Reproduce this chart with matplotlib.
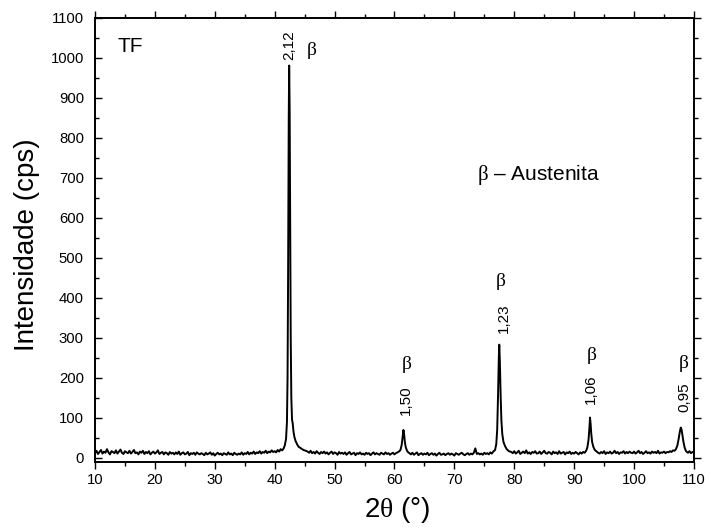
import numpy as np
import matplotlib

matplotlib.use("Agg")
import matplotlib.pyplot as plt
from matplotlib.ticker import MultipleLocator
from matplotlib.lines import TICKRIGHT

plt.rcParams["font.family"] = ["Liberation Sans", "DejaVu Sans"]
plt.rcParams["mathtext.fontset"] = "custom"
plt.rcParams["mathtext.rm"] = "Liberation Serif"
plt.rcParams["mathtext.it"] = "Liberation Serif"

# ---- dados lidos do difratograma (2theta em graus, intensidade em cps) ----
# trechos de fundo amostrados a cada 0,25 grau: (inicio, valores)
PASSO_FUNDO = 0.25

fundo_a_inicio = 10.0
fundo_a = [
    12, 18, 10, 15, 20, 11, 16, 13, 22, 14, 9, 17, 15, 12, 19, 11, 16, 21, 13, 10, 17, 14, 12, 18,
    11, 15, 20, 12, 14, 9, 16, 13, 18, 10, 15, 12, 17, 9, 13, 16, 11, 14, 19, 10, 13, 15, 9, 14,
    12, 8, 15, 11, 13, 9, 14, 10, 16, 8, 12, 14, 9, 11, 15, 7, 12, 10, 13, 8, 14, 11, 9, 12,
    10, 7, 13, 9, 11, 14, 8, 12, 6, 10, 13, 9, 11, 7, 12, 10, 8, 14, 9, 11, 7, 13, 10, 8,
    11, 9, 14, 8, 12, 10, 15, 9, 13, 11, 16, 10, 14, 12, 17, 11, 15, 13, 18, 12, 16, 14, 19, 15,
    17, 14, 20, 16, 22, 19,
]

fundo_b_inicio = 45.5
fundo_b = [
    16, 13, 18, 12, 15, 11, 17, 13, 10, 15, 12, 16, 11, 14, 9, 13, 16, 10, 14, 12, 8, 15, 11, 13,
    10, 14, 8, 12, 15, 9, 11, 13, 7, 12, 10, 14, 9, 11, 8, 13, 10, 12, 7, 11, 14, 9, 12, 10,
    8, 13, 11, 9, 14, 10, 12, 8, 11, 13, 9, 12, 14, 16,
]

fundo_c_inicio = 62.5
fundo_c = [
    12, 9, 13, 8, 11, 14, 7, 10, 12, 8, 11, 9, 13, 7, 10, 12, 8, 11, 6, 10, 13, 8, 9, 11,
    7, 10, 12, 8, 11, 9, 6, 12, 10, 8, 11, 13, 9, 7, 10, 12, 8, 11, 9, 13, 24, 10, 12, 9,
    11, 8, 13, 10, 12, 9, 14, 11, 16,
]

fundo_d_inicio = 79.5
fundo_d = [
    15, 12, 17, 11, 14, 18, 10, 13, 16, 12, 19, 11, 14, 10, 15, 13, 17, 11, 12, 16, 10, 14, 18, 12,
    11, 15, 13, 9, 16, 12, 14, 10, 17, 11, 13, 15, 9, 14, 12, 16, 10, 13, 11, 15, 12, 9, 14, 11,
    15, 13,
]

fundo_e_inicio = 93.75
fundo_e = [
    16, 13, 11, 15, 12, 17, 10, 14, 12, 16, 11, 13, 18, 12, 15, 10, 14, 13, 17, 11, 15, 12, 16, 13,
    12, 16, 11, 14, 18, 12, 15, 10, 13, 17, 12, 14, 11, 16, 13, 15, 12, 18, 11, 14, 13, 16, 12, 15,
    14, 17, 15, 19, 18,
]

fundo_f_inicio = 108.75
fundo_f = [16, 13, 17, 12, 15, 14]

# perfis dos picos
pico1_x = [41.5, 41.7, 41.9, 42.05, 42.15, 42.25, 42.35, 42.42, 42.5, 42.58, 42.68,
           42.78, 42.9, 43.0, 43.15, 43.3, 43.5, 43.75, 44.0, 44.4, 44.8, 45.2]
pico1_y = [24, 32, 48, 90, 200, 480, 850, 980, 870, 600, 300,
           150, 95, 88, 65, 52, 42, 34, 28, 24, 20, 18]

pico2_x = [61.0, 61.2, 61.35, 61.5, 61.62, 61.75, 61.9, 62.1, 62.3]
pico2_y = [20, 32, 52, 70, 58, 38, 26, 18, 14]

pico3_x = [76.8, 77.0, 77.15, 77.3, 77.42, 77.5, 77.6, 77.72, 77.85, 78.0, 78.2,
           78.45, 78.75, 79.1]
pico3_y = [20, 35, 70, 160, 250, 283, 240, 160, 95, 60, 40, 30, 22, 17]

pico4_x = [92.0, 92.2, 92.4, 92.55, 92.65, 92.75, 92.85, 93.0, 93.2, 93.45]
pico4_y = [18, 26, 45, 75, 101, 85, 62, 40, 28, 20]

pico5_x = [107.0, 107.25, 107.45, 107.65, 107.8, 107.95, 108.1, 108.25, 108.45, 108.65]
pico5_y = [22, 32, 48, 66, 76, 70, 55, 40, 26, 18]

# rotulos dos picos (distancia interplanar) e posicoes dos betas
rotulos_d = ["1,50", "1,23", "1,06", "0,95"]
rotulos_x = [61.9, 78.2, 92.8, 108.4]
rotulos_y = [145, 349, 172, 152]
beta_x = [62.0, 77.7, 92.9, 108.2]
beta_y = [234, 440, 255, 237]


def _trecho_fundo(inicio, valores):
    xs = inicio + PASSO_FUNDO * np.arange(len(valores))
    return list(zip(xs, valores))


def _montar_difratograma():
    pontos = []
    for inicio, valores in [
        (fundo_a_inicio, fundo_a),
        (fundo_b_inicio, fundo_b),
        (fundo_c_inicio, fundo_c),
        (fundo_d_inicio, fundo_d),
        (fundo_e_inicio, fundo_e),
        (fundo_f_inicio, fundo_f),
    ]:
        pontos.extend(_trecho_fundo(inicio, valores))
    for px, py in [
        (pico1_x, pico1_y),
        (pico2_x, pico2_y),
        (pico3_x, pico3_y),
        (pico4_x, pico4_y),
        (pico5_x, pico5_y),
    ]:
        pontos.extend(zip(px, py))
    pontos.sort(key=lambda p: p[0])
    return np.array([p[0] for p in pontos]), np.array([p[1] for p in pontos])


dois_theta, intensidade = _montar_difratograma()

fig = plt.figure(figsize=(7.11, 5.32), dpi=100)
ax = fig.add_axes([0.1336, 0.1316, 0.8424, 0.8355])

ax.plot(dois_theta, intensidade, color="black", linewidth=1.4)

ax.set_xlim(10, 110)
ax.set_ylim(-10, 1100)
ax.xaxis.set_major_locator(MultipleLocator(10))
ax.xaxis.set_minor_locator(MultipleLocator(5))
ax.yaxis.set_major_locator(MultipleLocator(100))
ax.yaxis.set_minor_locator(MultipleLocator(50))
# Origin: eixo y esquerdo com ticks para dentro, demais para fora
ax.tick_params(which="both", top=True, right=True, width=1.0, labelsize=10.7)
ax.tick_params(axis="x", which="both", direction="out", pad=3)
ax.tick_params(axis="y", which="both", direction="in", pad=8)
ax.tick_params(which="major", length=5)
ax.tick_params(which="minor", length=3)
for t in ax.yaxis.get_ticklines(minor=False)[1::2] + ax.yaxis.get_ticklines(minor=True)[1::2]:
    t.set_marker(TICKRIGHT)
for lado in ax.spines.values():
    lado.set_linewidth(1.4)

ax.set_xlabel(r"2$\theta$ (°)", fontsize=20)
ax.set_ylabel("Intensidade (cps)", fontsize=20)
ax.xaxis.set_label_coords(0.504, -0.075)
ax.yaxis.set_label_coords(-0.092, 0.49)

ax.text(13.7, 1027, "TF", fontsize=15, ha="left", va="center")
ax.text(42.4, 1031, "2,12", fontsize=11, rotation=90, ha="center", va="center")
ax.text(46.2, 1017, r"$\beta$", fontsize=14, ha="center", va="center")
ax.text(73.8, 706, r"$\beta$ – Austenita", fontsize=15, ha="left", va="center")

for texto, x, y in zip(rotulos_d, rotulos_x, rotulos_y):
    ax.text(x, y, texto, fontsize=11, rotation=90, ha="center", va="center")
for x, y in zip(beta_x, beta_y):
    ax.text(x, y, r"$\beta$", fontsize=14, ha="center", va="center")

fig.savefig("out.png", dpi=100)
plt.close(fig)
